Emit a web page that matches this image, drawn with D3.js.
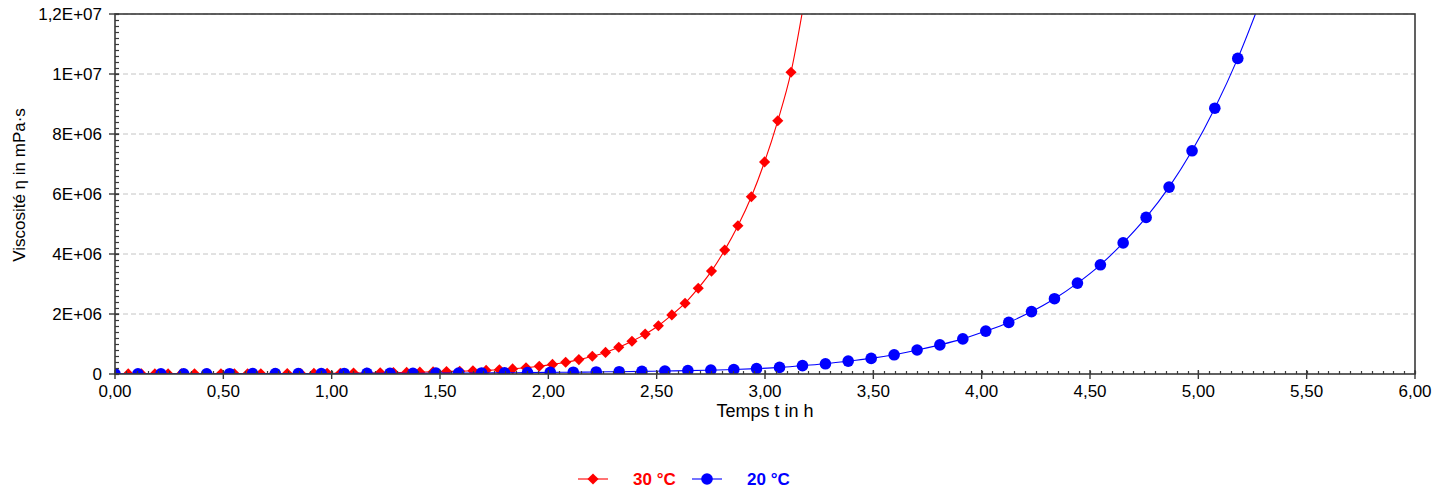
<!DOCTYPE html>
<html>
	<head>
		<meta charset="utf-8">
		<title>Viscosité en fonction du temps</title>
		<script src="https://d3js.org/d3.v7.min.js" charset="utf-8"></script>
		<style>
			body {
				margin: 0;
				background: #fff;
			}
			svg {
				display: block;
				font-family: "Liberation Sans", Arial, sans-serif;
			}
			.grid line {
				stroke: #c4c4c4;
				stroke-dasharray: 5,3;
			}
		</style>
	</head>
<body>
	<svg></svg>
</body>
<script>

// temps t in h, viscosité in mPa·s
var red30Time = [0.000, 0.061, 0.122, 0.184, 0.245, 0.306, 0.367, 0.428, 0.489, 0.551,
	0.612, 0.673, 0.734, 0.795, 0.857, 0.918, 0.979, 1.040, 1.101, 1.162,
	1.224, 1.285, 1.346, 1.407, 1.468, 1.530, 1.591, 1.652, 1.713, 1.774,
	1.835, 1.897, 1.958, 2.019, 2.080, 2.141, 2.203, 2.264, 2.325, 2.386,
	2.447, 2.508, 2.570, 2.631, 2.692, 2.753, 2.814, 2.875, 2.937, 2.998,
	3.059, 3.120];
var red30Visc = [0.002e6, 0.002e6, 0.003e6, 0.003e6, 0.004e6, 0.004e6, 0.005e6, 0.006e6, 0.007e6, 0.008e6,
	0.009e6, 0.010e6, 0.012e6, 0.014e6, 0.016e6, 0.019e6, 0.022e6, 0.026e6, 0.030e6, 0.035e6,
	0.040e6, 0.046e6, 0.053e6, 0.061e6, 0.070e6, 0.081e6, 0.093e6, 0.106e6, 0.12e6, 0.14e6,
	0.17e6, 0.21e6, 0.26e6, 0.32e6, 0.39e6, 0.48e6, 0.59e6, 0.72e6, 0.89e6, 1.09e6,
	1.33e6, 1.61e6, 1.97e6, 2.36e6, 2.86e6, 3.43e6, 4.13e6, 4.94e6, 5.91e6, 7.07e6,
	8.44e6, 10.06e6];
// the drawn curve runs on past the last marker, out of the plot
var red30Tail = [[3.185, 12.6e6]];

var blue20Time = [0.000, 0.106, 0.212, 0.317, 0.423, 0.529, 0.635, 0.740, 0.846, 0.952,
	1.058, 1.163, 1.269, 1.375, 1.481, 1.586, 1.692, 1.798, 1.904, 2.009,
	2.115, 2.221, 2.327, 2.432, 2.538, 2.644, 2.750, 2.856, 2.961, 3.067,
	3.173, 3.279, 3.384, 3.490, 3.596, 3.702, 3.807, 3.913, 4.019, 4.125,
	4.230, 4.336, 4.442, 4.548, 4.653, 4.759, 4.865, 4.971, 5.076, 5.182];
var blue20Visc = [0.005e6, 0.006e6, 0.007e6, 0.008e6, 0.009e6, 0.010e6, 0.011e6, 0.012e6, 0.014e6, 0.016e6,
	0.018e6, 0.020e6, 0.022e6, 0.025e6, 0.028e6, 0.031e6, 0.035e6, 0.040e6, 0.046e6, 0.053e6,
	0.060e6, 0.068e6, 0.077e6, 0.088e6, 0.100e6, 0.114e6, 0.130e6, 0.150e6, 0.180e6, 0.220e6,
	0.28e6, 0.34e6, 0.43e6, 0.52e6, 0.64e6, 0.80e6, 0.97e6, 1.17e6, 1.43e6, 1.72e6,
	2.08e6, 2.51e6, 3.03e6, 3.64e6, 4.37e6, 5.22e6, 6.23e6, 7.44e6, 8.86e6, 10.52e6];
var blue20Tail = [[5.29, 12.5e6]];

var xTicks = [0, 0.5, 1, 1.5, 2, 2.5, 3, 3.5, 4, 4.5, 5, 5.5, 6];
var xTickLabels = ["0,00", "0,50", "1,00", "1,50", "2,00", "2,50", "3,00", "3,50", "4,00", "4,50", "5,00", "5,50", "6,00"];
var yTicks = [0, 2e6, 4e6, 6e6, 8e6, 1e7, 1.2e7];
var yTickLabels = ["0", "2E+06", "4E+06", "6E+06", "8E+06", "1E+07", "1,2E+07"];

var seriesNames = ["30 °C", "20 °C"];

var config = {
	"width": 1452,
	"height": 490,
	"left": 115,
	"right": 1415,
	"top": 14,
	"bottom": 374,
	"fontSize": 17
}

var svg = d3.select("svg")
	.attr("width", config.width)
	.attr("height", config.height);

var x = d3.scaleLinear().domain([0, 6]).range([config.left, config.right]);
var y = d3.scaleLinear().domain([0, 1.2e7]).range([config.bottom, config.top]);

// grid
svg.append("g")
	.attr("class", "grid")
	.selectAll("line")
	.data(yTicks.slice(1))
	.enter().append("line")
		.attr("x1", config.left)
		.attr("x2", config.right)
		.attr("y1", function(d) { return y(d); })
		.attr("y2", function(d) { return y(d); });

svg.append("clipPath")
	.attr("id", "plot-clip")
	.append("rect")
		.attr("x", config.left)
		.attr("y", config.top)
		.attr("width", config.right - config.left)
		.attr("height", config.bottom - config.top);

var series = [
	{ name: seriesNames[0], color: "#ff0000", shape: "diamond",
		points: red30Time.map(function(t, i) { return [t, red30Visc[i]]; }), tail: red30Tail },
	{ name: seriesNames[1], color: "#0000ff", shape: "circle",
		points: blue20Time.map(function(t, i) { return [t, blue20Visc[i]]; }), tail: blue20Tail }
];

var line = d3.line()
	.x(function(d) { return x(d[0]); })
	.y(function(d) { return y(d[1]); })
	.curve(d3.curveMonotoneX);

var diamond = d3.symbol().type(d3.symbolSquare).size(62);

function marker(sel, s) {
	if (s.shape == "diamond") {
		sel.append("path")
			.attr("d", diamond)
			.attr("transform", function(d) { return `translate(${x(d[0])},${y(d[1])}) rotate(45)`; })
			.attr("fill", s.color);
	} else {
		sel.append("circle")
			.attr("cx", function(d) { return x(d[0]); })
			.attr("cy", function(d) { return y(d[1]); })
			.attr("r", 5.8)
			.attr("fill", s.color);
	}
}

var plot = svg.append("g").attr("clip-path", "url(#plot-clip)");

series.forEach(function(s) {
	var g = plot.append("g");
	g.append("path")
		.datum(s.points.concat(s.tail))
		.attr("d", line)
		.attr("fill", "none")
		.attr("stroke", s.color)
		.attr("stroke-width", 1.1);
	var m = g.append("g").selectAll("g")
		.data(s.points)
		.enter();
	marker(m, s);
});

// frame
var axisColor = "#3a3a3a";
svg.append("rect")
	.attr("x", config.left)
	.attr("y", config.top)
	.attr("width", config.right - config.left)
	.attr("height", config.bottom - config.top)
	.attr("fill", "none")
	.attr("stroke", axisColor)
	.attr("stroke-width", 1.6);

// y minor ticks (inside) and major ticks
var yMinor = d3.range(0, 1.2e7 + 1, 2e5);
svg.append("g").selectAll("line")
	.data(yMinor)
	.enter().append("line")
		.attr("x1", config.left)
		.attr("x2", config.left + 4)
		.attr("y1", function(d) { return Math.round(y(d)) + 0.5; })
		.attr("y2", function(d) { return Math.round(y(d)) + 0.5; })
		.attr("stroke", axisColor)
		.attr("stroke-width", 1.2);
svg.append("g").selectAll("line")
	.data(yTicks)
	.enter().append("line")
		.attr("x1", config.left - 6)
		.attr("x2", config.left + 4)
		.attr("y1", function(d) { return y(d); })
		.attr("y2", function(d) { return y(d); })
		.attr("stroke", axisColor)
		.attr("stroke-width", 1.4);
svg.append("g").selectAll("text")
	.data(yTicks)
	.enter().append("text")
		.attr("x", config.left - 13)
		.attr("y", function(d) { return y(d); })
		.attr("dy", "0.36em")
		.attr("text-anchor", "end")
		.attr("font-size", config.fontSize)
		.attr("fill", "#000")
		.text(function(d, i) { return yTickLabels[i]; });

// x minor ticks and major ticks
var xMinor = d3.range(0, 6.001, 0.05);
svg.append("g").selectAll("line")
	.data(xMinor)
	.enter().append("line")
		.attr("x1", function(d) { return Math.round(x(d)) + 0.5; })
		.attr("x2", function(d) { return Math.round(x(d)) + 0.5; })
		.attr("y1", config.bottom - 3)
		.attr("y2", config.bottom)
		.attr("stroke", axisColor)
		.attr("stroke-width", 1.2);
svg.append("g").selectAll("line")
	.data(xTicks)
	.enter().append("line")
		.attr("x1", function(d) { return x(d); })
		.attr("x2", function(d) { return x(d); })
		.attr("y1", config.bottom - 4)
		.attr("y2", config.bottom + 5)
		.attr("stroke", axisColor)
		.attr("stroke-width", 1.4);
svg.append("g").selectAll("text")
	.data(xTicks)
	.enter().append("text")
		.attr("x", function(d) { return x(d); })
		.attr("y", 397)
		.attr("text-anchor", "middle")
		.attr("font-size", config.fontSize)
		.attr("fill", "#000")
		.text(function(d, i) { return xTickLabels[i]; });

// axis titles
svg.append("text")
	.attr("x", (config.left + config.right) / 2)
	.attr("y", 417)
	.attr("text-anchor", "middle")
	.attr("font-size", 18)
	.attr("fill", "#000")
	.text("Temps t in h");

svg.append("text")
	.attr("transform", "translate(25,185) rotate(-90)")
	.attr("text-anchor", "middle")
	.attr("font-size", config.fontSize)
	.attr("fill", "#000")
	.text("Viscosité η in mPa·s");

// legend
var legendX = [578, 692];
var legend = svg.append("g").selectAll("g")
	.data(series)
	.enter().append("g")
		.attr("transform", function(d, i) { return `translate(${legendX[i]},479)`; });

legend.append("line")
	.attr("x1", 0)
	.attr("x2", 30)
	.attr("stroke", function(d) { return d.color; })
	.attr("stroke-opacity", 0.55)
	.attr("stroke-width", 2);

legend.each(function(s) {
	var g = d3.select(this);
	if (s.shape == "diamond") {
		g.append("path")
			.attr("d", diamond)
			.attr("transform", "translate(15,0) rotate(45)")
			.attr("fill", s.color);
	} else {
		g.append("circle")
			.attr("cx", 15)
			.attr("r", 5.8)
			.attr("fill", s.color);
	}
});

legend.append("text")
	.attr("x", 55)
	.attr("dy", "0.36em")
	.attr("font-size", config.fontSize)
	.attr("font-weight", "bold")
	.attr("fill", function(d) { return d.color; })
	.text(function(d) { return d.name; });

</script>
</html>
